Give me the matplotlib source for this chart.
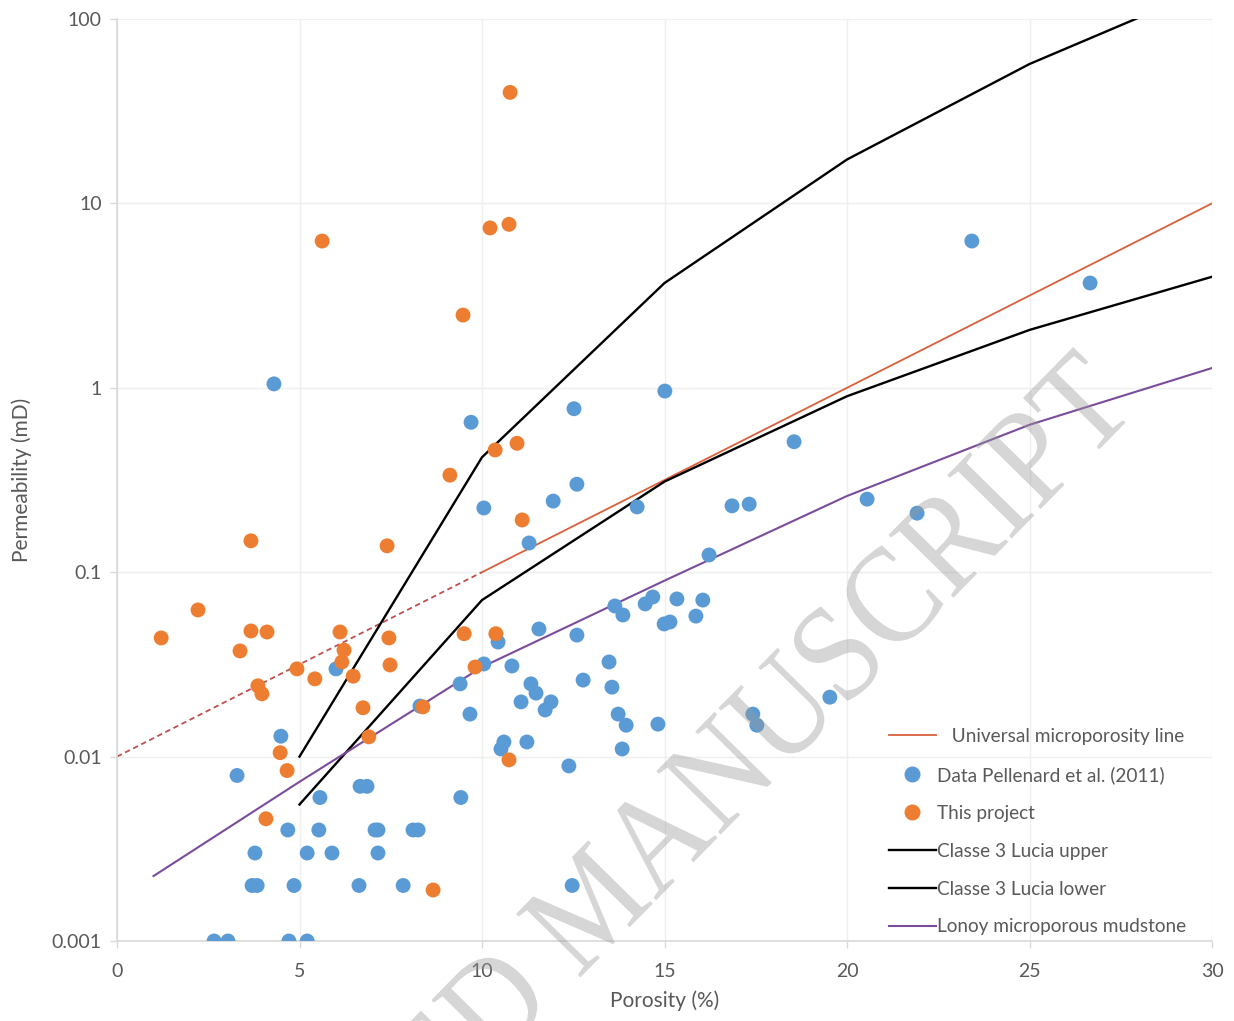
import matplotlib
matplotlib.use("Agg")
import matplotlib.pyplot as plt
from matplotlib.lines import Line2D
from matplotlib.textpath import TextPath
from matplotlib.patches import PathPatch
from matplotlib.font_manager import FontProperties
from matplotlib.transforms import Affine2D, IdentityTransform

plt.rcParams["font.family"] = ["Lato", "DejaVu Sans"]

# Data Pellenard et al. (2011): porosity (%), permeability (mD)
pellenard_phi = [4.30, 9.70, 10.05, 15.01, 12.52, 18.55, 20.55, 21.92, 23.42, 26.66,
                 16.22, 12.60, 11.95, 14.25, 16.85, 17.32, 11.29, 13.64, 13.86, 14.47,
                 14.68, 15.34, 16.05, 15.86, 14.99, 15.15, 11.56, 12.60, 10.44, 10.05,
                 10.82, 9.40, 13.48, 13.56, 12.77, 11.34, 11.48, 11.07, 11.89, 11.73,
                 9.67, 13.73, 13.95, 14.82, 17.42, 17.53, 10.60, 10.52, 11.23, 13.84,
                 12.38, 9.42, 19.53, 6.00, 4.49, 3.29, 6.66, 6.85, 5.56, 4.68,
                 5.53, 7.07, 7.15, 8.11, 8.25, 3.78, 5.21, 5.89, 7.15, 3.70,
                 3.84, 4.85, 6.63, 7.84, 2.66, 3.04, 4.71, 5.21, 8.30, 12.47]
pellenard_k = [1.05, 0.65, 0.223, 0.96, 0.77, 0.51, 0.249, 0.209, 6.25, 3.70,
               0.124, 0.30, 0.243, 0.226, 0.229, 0.234, 0.144, 0.0656, 0.0586, 0.0673,
               0.0734, 0.0716, 0.0706, 0.0578, 0.0524, 0.0537, 0.0492, 0.0456, 0.0418, 0.0318,
               0.0310, 0.0248, 0.0326, 0.0238, 0.0260, 0.0248, 0.0221, 0.0198, 0.0198, 0.0179,
               0.0170, 0.0170, 0.0148, 0.0150, 0.0170, 0.0148, 0.0120, 0.0110, 0.0120, 0.0110,
               0.0089, 0.0060, 0.0210, 0.0299, 0.0129, 0.0079, 0.0069, 0.0069, 0.0060, 0.0040,
               0.0040, 0.0040, 0.0040, 0.0040, 0.0040, 0.0030, 0.0030, 0.0030, 0.0030, 0.0020,
               0.0020, 0.0020, 0.0020, 0.0020, 0.0010, 0.0010, 0.0010, 0.0010, 0.0188, 0.0020]

# This project
project_phi = [10.77, 5.62, 10.22, 10.74, 9.48, 10.36, 10.96, 9.12, 11.10, 3.67,
               7.40, 2.22, 1.21, 3.67, 4.11, 6.11, 3.37, 6.22, 6.16, 7.48,
               7.45, 4.93, 5.42, 6.47, 3.86, 3.97, 6.74, 8.38, 6.90, 4.47,
               4.66, 4.08, 8.66, 9.51, 10.38, 9.81, 10.74]
project_k = [40.0, 6.25, 7.36, 7.7, 2.48, 0.46, 0.50, 0.336, 0.192, 0.148,
             0.139, 0.0624, 0.044, 0.048, 0.0474, 0.0474, 0.0374, 0.0378, 0.0326, 0.0314,
             0.044, 0.0299, 0.0264, 0.0273, 0.0242, 0.0219, 0.0184, 0.0186, 0.0128, 0.0105,
             0.0084, 0.0046, 0.00189, 0.0464, 0.0464, 0.0306, 0.0096]

# reference lines
universal_dash_phi = [0, 10]
universal_dash_k = [0.01, 0.1]
universal_phi = [10, 30]
universal_k = [0.1, 10]

lucia_upper_phi = [5, 10, 15, 20, 25, 30]
lucia_upper_k = [0.01, 0.42, 3.7, 17.3, 57, 150]
lucia_lower_phi = [5, 10, 15, 20, 25, 30]
lucia_lower_k = [0.0055, 0.0706, 0.31, 0.90, 2.06, 4.0]
lonoy_phi = [1, 5, 10, 15, 20, 25, 30]
lonoy_k = [0.00225, 0.0073, 0.0306, 0.09, 0.259, 0.63, 1.28]

x_ticks = [0, 5, 10, 15, 20, 25, 30]
y_ticks = [0.001, 0.01, 0.1, 1, 10, 100]
y_tick_labels = ["0.001", "0.01", "0.1", "1", "10", "100"]

c_blue = "#5B9BD5"
c_orange = "#ED7D31"
c_univ = "#D9603B"
c_purple = "#7A4C9C"
c_text = "#595959"
c_axis = "#D9D9D9"

fig = plt.figure(figsize=(12.34, 10.21), dpi=100)
ax = fig.add_axes([117 / 1234, 80 / 1021, 1095 / 1234, 922 / 1021])

ax.set_yscale("log")
ax.set_xlim(0, 30)
ax.set_ylim(0.001, 100)

ax.plot(universal_dash_phi, universal_dash_k, color="#C0504D", linewidth=1.3,
        linestyle=(0, (3, 2)), zorder=2)
ax.plot(universal_phi, universal_k, color=c_univ, linewidth=1.3, zorder=2)
ax.plot(lucia_upper_phi, lucia_upper_k, color="black", linewidth=1.7, zorder=2)
ax.plot(lucia_lower_phi, lucia_lower_k, color="black", linewidth=1.7, zorder=2)
ax.plot(lonoy_phi, lonoy_k, color=c_purple, linewidth=1.5, zorder=2)

ax.scatter(pellenard_phi, pellenard_k, s=115, color=c_blue, edgecolors="none", zorder=3)
ax.scatter(project_phi, project_k, s=115, color=c_orange, edgecolors="none", zorder=4)

ax.set_xticks(x_ticks)
ax.set_yticks(y_ticks)
ax.set_yticklabels(y_tick_labels)
ax.yaxis.set_minor_locator(matplotlib.ticker.NullLocator())
ax.tick_params(axis="both", colors=c_axis, labelcolor=c_text, labelsize=14,
               length=5, width=1)
ax.tick_params(axis="x", pad=11)
ax.tick_params(axis="y", pad=6)

ax.grid(True, color="#EFEFEF", linewidth=1)
ax.set_axisbelow(True)
for side in ["top", "right"]:
    ax.spines[side].set_visible(False)
for side in ["left", "bottom"]:
    ax.spines[side].set_color(c_axis)
    ax.spines[side].set_linewidth(1.2)

ax.set_xlabel("Porosity (%)", fontsize=15, color=c_text, labelpad=7)
ax.set_ylabel("Permeability (mD)", fontsize=15, color=c_text, labelpad=14)

handles = [
    Line2D([], [], color=c_univ, linewidth=1.3),
    Line2D([], [], color=c_blue, marker="o", markersize=10.5, linestyle="none"),
    Line2D([], [], color=c_orange, marker="o", markersize=10.5, linestyle="none"),
    Line2D([], [], color="black", linewidth=1.7),
    Line2D([], [], color="black", linewidth=1.7),
    Line2D([], [], color=c_purple, linewidth=1.5),
]
labels = ["   Universal microporosity line", "Data Pellenard et al. (2011)", "This project",
          "Classe 3 Lucia upper", "Classe 3 Lucia lower", "Lonoy microporous mudstone"]
leg = ax.legend(handles, labels, loc="lower left", bbox_to_anchor=(0.7046, 0.006),
                frameon=False, fontsize=13.7, labelspacing=1.1, handlelength=2.47,
                handletextpad=0.1, borderpad=0, borderaxespad=0)
for t in leg.get_texts():
    t.set_color(c_text)

# journal watermark (serif, drawn as a path in pixel space)
wm_size = 138
wm_path = TextPath((0, 0), "ACCEPTED MANUSCRIPT", size=wm_size,
                   prop=FontProperties(family="Liberation Serif"))
wm_ext = wm_path.get_extents()
anchor_x = wm_ext.x1 - 0.30 * wm_size
anchor_y = 0.33 * wm_size
wm_trans = (Affine2D().translate(-anchor_x, -anchor_y).scale(0.9, 1.0)
            .rotate_deg(45.5).translate(1079, 1021 - 405))
fig.add_artist(PathPatch(wm_path, transform=wm_trans + IdentityTransform(),
                         facecolor="#999999", edgecolor="none", alpha=0.4, zorder=10))

plt.savefig("out.png", dpi=100)
